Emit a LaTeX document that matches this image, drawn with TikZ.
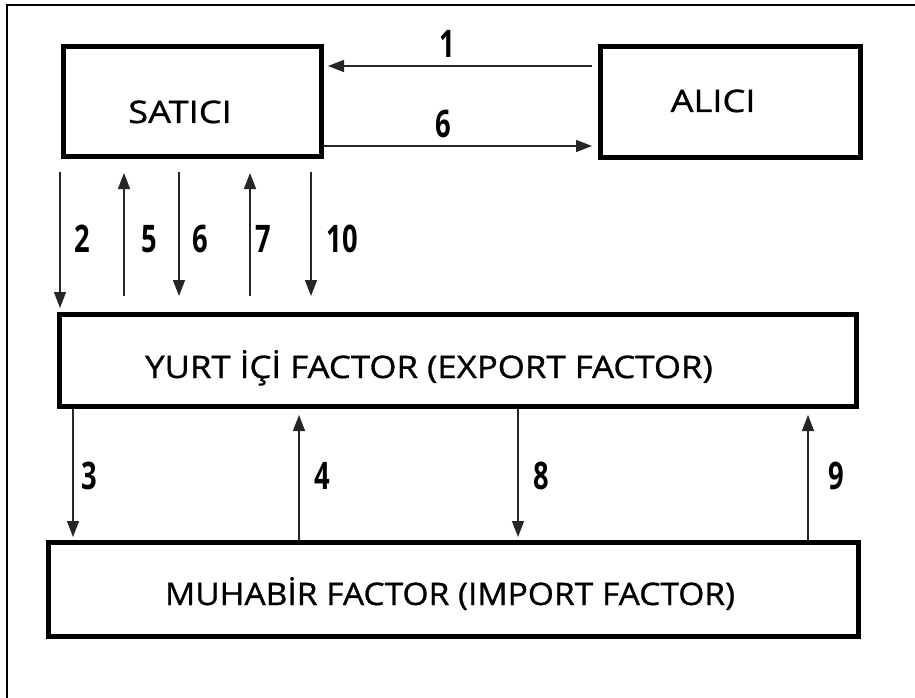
\documentclass[tikz,border=0pt]{standalone}
\usepackage{fontspec}
\setmainfont{Open Sans}
\newfontfamily\boxfont[FakeStretch=1.17,FakeBold=1]{Open Sans}
\newfontfamily\numfont[FakeStretch=0.72]{Open Sans}
\usetikzlibrary{arrows.meta}
\begin{document}
\begin{tikzpicture}[x=1pt,y=-1pt,
  box/.style={draw=black, line width=5pt, inner sep=0pt},
  boxtext/.style={anchor=base, inner sep=0pt, font=\boxfont\fontsize{31}{33}\selectfont},
  num/.style={anchor=base, inner sep=0pt, font=\numfont\bfseries\fontsize{38}{40}\selectfont},
  arr/.style={draw=black!85, line width=1.5pt, -{Triangle[length=16pt,width=12pt]}}]
\useasboundingbox (0,0) rectangle (915,698);
\draw[line width=2pt] (7,698) -- (7,5) -- (915,5);

% boxes
\node[box, minimum width=258pt, minimum height=109pt] (sat) at (192,101.5) {};
\node[box, minimum width=260pt, minimum height=110pt] (ali) at (730,102) {};
\node[box, minimum width=796.5pt, minimum height=92pt] (yurt) at (457.75,360) {};
\node[box, minimum width=810pt, minimum height=94pt] (muh) at (453,589) {};

% box texts
\node[boxtext] (satT) at (180,123) {SATICI};
\node[boxtext] (aliT) at (713,112) {ALICI};
\node[boxtext] (yurtT) at (429,378) {\scalebox{0.96}[1]{YURT İÇİ FACTOR (EXPORT FACTOR)}};
\node[boxtext] (muhT) at (450,605) {\scalebox{0.925}[1]{MUHABİR FACTOR (IMPORT FACTOR)}};

% column coordinates
\coordinate (c2) at (60,0);
\coordinate (c5) at (124,0);
\coordinate (c6) at (179,0);
\coordinate (c7) at (250,0);
\coordinate (c10) at (311,0);
\coordinate (c3) at (73,0);
\coordinate (c4) at (299,0);
\coordinate (c8) at (518,0);
\coordinate (c9) at (808,0);
\coordinate (r1) at (0,66);
\coordinate (r6) at (0,146);

% horizontal arrows
\draw[arr, shorten <=5.5pt, shorten >=4.5pt] (ali.west |- r1) -- (sat.east |- r1);
\draw[arr, shorten >=5.5pt] (sat.east |- r6) -- (ali.west |- r6);

% top vertical arrows
\draw[arr, shorten <=13.5pt, shorten >=3.5pt] (sat.south -| c2) -- (yurt.north -| c2);
\draw[arr, shorten <=15.5pt, shorten >=14.5pt] (yurt.north -| c5) -- (sat.south -| c5);
\draw[arr, shorten <=13.5pt, shorten >=15.5pt] (sat.south -| c6) -- (yurt.north -| c6);
\draw[arr, shorten <=15.5pt, shorten >=14.5pt] (yurt.north -| c7) -- (sat.south -| c7);
\draw[arr, shorten <=13.5pt, shorten >=15.5pt] (sat.south -| c10) -- (yurt.north -| c10);

% bottom vertical arrows
\draw[arr, shorten >=2.5pt] (yurt.south -| c3) -- (muh.north -| c3);
\draw[arr, shorten >=6.5pt] (muh.north -| c4) -- (yurt.south -| c4);
\draw[arr, shorten >=2.5pt] (yurt.south -| c8) -- (muh.north -| c8);
\draw[arr, shorten >=6.5pt] (muh.north -| c9) -- (yurt.south -| c9);

% labels
\node[num] (l1) at (447.5,58) {1};
\node[num] (l6a) at (443,138) {6};
\node[num] (l2) at (82,252) {2};
\node[num] (l5) at (149,252) {5};
\node[num] (l6b) at (200,252) {6};
\node[num] (l7) at (263,252) {7};
\node[num] (l10) at (342,252) {10};
\node[num] (l3) at (89,489) {3};
\node[num] (l4) at (322.5,489) {4};
\node[num] (l8) at (541.7,489) {8};
\node[num] (l9) at (836.7,489) {9};
\end{tikzpicture}
\end{document}
